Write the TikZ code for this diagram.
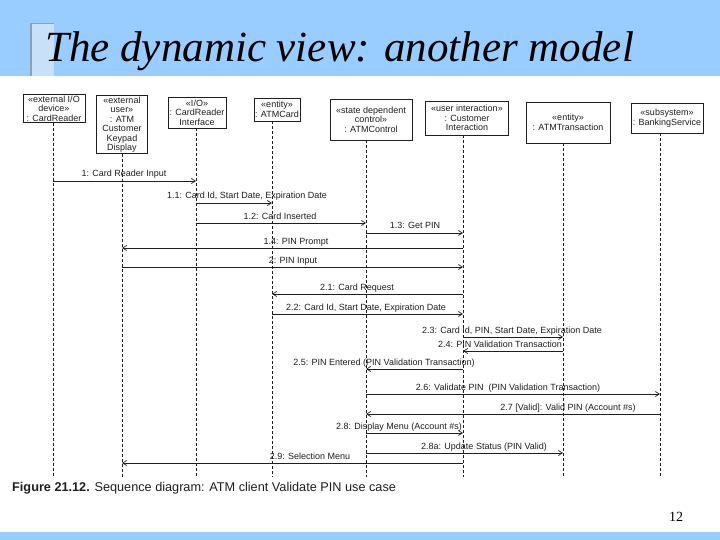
\documentclass[tikz,border=0pt]{standalone}
\usepackage{fontspec}
\setmainfont{Liberation Serif}
\setsansfont{Liberation Sans}
\usetikzlibrary{arrows.meta}
\definecolor{band}{RGB}{153,204,255}
\definecolor{tabfill}{RGB}{200,224,248}
\definecolor{tabedge}{RGB}{140,160,185}
\definecolor{ink}{RGB}{30,30,30}
\tikzset{
  objbox/.style={draw=ink, line width=0.7pt, align=center, inner sep=1pt,
    font=\sffamily\fontsize{9}{9.5}\selectfont, text=ink},
  lifeline/.style={draw=ink, line width=0.6pt, dash pattern=on 3pt off 2pt},
  msg/.style={draw=ink, line width=0.7pt, -{Straight Barb[length=4pt,width=5pt]}},
  msglabel/.style={font=\sffamily\fontsize{9}{9}\selectfont, text=ink, anchor=base, inner sep=0pt}
}
\newcommand{\msgline}[6]{%
  \draw[msg] (e#1 |- 0,#3) -- (e#2 |- 0,#3);
  \node[msglabel] (#6) at (#5,#3-4) {#4};
}
\begin{document}
\begin{tikzpicture}[x=1pt,y=-1pt]
\useasboundingbox (0,0) rectangle (720,540);
% bands
\fill[band] (0,0) rectangle (720,76);
\fill[band] (0,532) rectangle (720,540);
\fill[tabfill] (30,23) rectangle (54,76);
\draw[tabedge, line width=1.5pt] (30.75,76) -- (30.75,23.75) -- (54,23.75);
\node[font=\itshape\fontsize{43}{43}\selectfont, anchor=base west, inner sep=0pt] (title) at (45,62) {The dynamic view: another model};

% objects
\node[objbox, minimum width=62pt, minimum height=26pt] (b1) at (54,108.5) {«external I/O\\device»\\: CardReader};
\node[objbox, minimum width=51pt, minimum height=57pt] (b2) at (122,124.5) {«external\\user»\\: ATM\\Customer\\Keypad\\Display};
\node[objbox, minimum width=58pt, minimum height=31pt] (b3) at (197,112.5) {«I/O»\\: CardReader\\Interface};
\node[objbox, minimum width=46pt, minimum height=23pt] (b4) at (277,109.5) {«entity»\\: ATMCard};
\node[objbox, minimum width=82pt, minimum height=41pt] (b5) at (371,119.5) {«state dependent\\control»\\: ATMControl};
\node[objbox, minimum width=83pt, minimum height=34pt] (b6) at (467,118) {«user interaction»\\: Customer\\Interaction};
\node[objbox, minimum width=84pt, minimum height=41pt] (b7) at (568,122.5) {«entity»\\: ATMTransaction};
\node[objbox, minimum width=72pt, minimum height=30pt] (b8) at (667,118) {«subsystem»\\: BankingService};

% lifeline ends
\coordinate (e1) at (53,477);
\coordinate (e2) at (122,477);
\coordinate (e3) at (196,477);
\coordinate (e4) at (272,477);
\coordinate (e5) at (366,477);
\coordinate (e6) at (463,477);
\coordinate (e7) at (563,477);
\coordinate (e8) at (660,477);
\foreach \i in {1,...,8} {
  \draw[lifeline] (b\i.south -| e\i) -- (e\i);
}

% messages
\msgline{1}{3}{181}{1: Card Reader Input}{124}{m1}
\msgline{3}{4}{203}{1.1: Card Id, Start Date, Expiration Date}{247}{m11}
\msgline{3}{5}{223}{1.2: Card Inserted}{280}{m12}
\msgline{5}{6}{233}{1.3: Get PIN}{415}{m13}
\msgline{6}{2}{248}{1.4: PIN Prompt}{296}{m14}
\msgline{2}{6}{267}{2: PIN Input}{293}{m2}
\msgline{6}{4}{294}{2.1: Card Request}{357}{m21}
\msgline{4}{6}{314}{2.2: Card Id, Start Date, Expiration Date}{366}{m22}
\msgline{6}{7}{337}{2.3: Card Id, PIN, Start Date, Expiration Date}{512}{m23}
\msgline{7}{6}{351}{2.4: PIN Validation Transaction}{500}{m24}
\msgline{6}{5}{369}{2.5: PIN Entered (PIN Validation Transaction)}{384}{m25}
\msgline{5}{8}{394}{2.6: Validate PIN\ \ (PIN Validation Transaction)}{508}{m26}
\msgline{8}{5}{414}{2.7 [Valid]: Valid PIN (Account \#s)}{568}{m27}
\msgline{5}{6}{433}{2.8: Display Menu (Account \#s)}{399}{m28}
\msgline{5}{7}{453}{2.8a: Update Status (PIN Valid)}{484}{m28a}
\msgline{6}{2}{463}{2.9: Selection Menu}{310}{m29}

% caption and page number
\node[anchor=base west, inner sep=0pt, font=\sffamily\fontsize{12.7}{12.7}\selectfont, text=ink] (cap) at (12,491) {\textbf{Figure 21.12.} Sequence diagram: ATM client Validate PIN use case};
\node[anchor=base, inner sep=0pt, font=\fontsize{14}{14}\selectfont] (pg) at (676,521) {12};
\end{tikzpicture}
\end{document}
